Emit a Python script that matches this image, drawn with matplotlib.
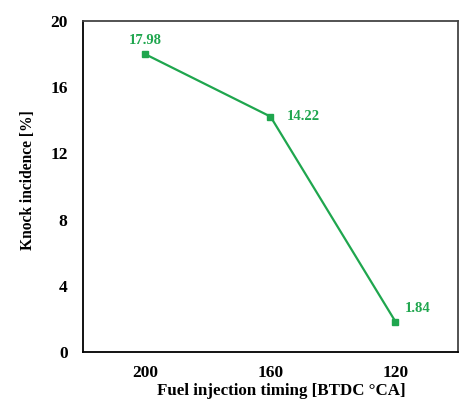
import matplotlib.pyplot as plt

timings = ['200', '160', '120']
knock = [17.98, 14.22, 1.84]
labels = ['17.98', '14.22', '1.84']

plt.rcParams['font.family'] = 'Liberation Serif'
plt.rcParams['font.weight'] = 'bold'

green = '#1fa64e'

fig = plt.figure(figsize=(4.61, 4.09), dpi=100)
ax = fig.add_axes([0.18, 0.139, 0.8135, 0.81])

x = list(range(len(timings)))
ax.plot(x, knock, color=green, lw=1.6, marker='s', markersize=5)

# value labels
offsets = [(0, 5), (12, 0), (7, 5)]
aligns = [('center', 'bottom'), ('left', 'center'), ('left', 'bottom')]
for xi, yi, lab, off, al in zip(x, knock, labels, offsets, aligns):
    ax.annotate(lab, (xi, yi), xytext=off, textcoords='offset points',
                ha=al[0], va=al[1], color=green, fontsize=10.5, fontweight='bold')

ax.set_xlim(-0.5, 2.5)
ax.set_ylim(0, 20)
ax.set_xticks(x)
ax.set_xticklabels(timings)
ax.set_yticks([0, 4, 8, 12, 16, 20])
ax.tick_params(length=0, labelsize=12.5)
ax.tick_params(axis='y', pad=11)
ax.tick_params(axis='x', pad=9)
for s in ax.spines.values():
    s.set_linewidth(1.3)
ax.spines['top'].set_color('#444444')
ax.spines['right'].set_color('#444444')

ax.set_xlabel('Fuel injection timing [BTDC \u00b0CA]', fontsize=12.2, fontweight='bold')
ax.xaxis.set_label_coords(0.53, -0.092)
ax.set_ylabel('Knock incidence [%]', fontsize=11.2, fontweight='bold')
ax.yaxis.set_label_coords(-0.126, 0.52)

fig.savefig('out.png', dpi=100)
